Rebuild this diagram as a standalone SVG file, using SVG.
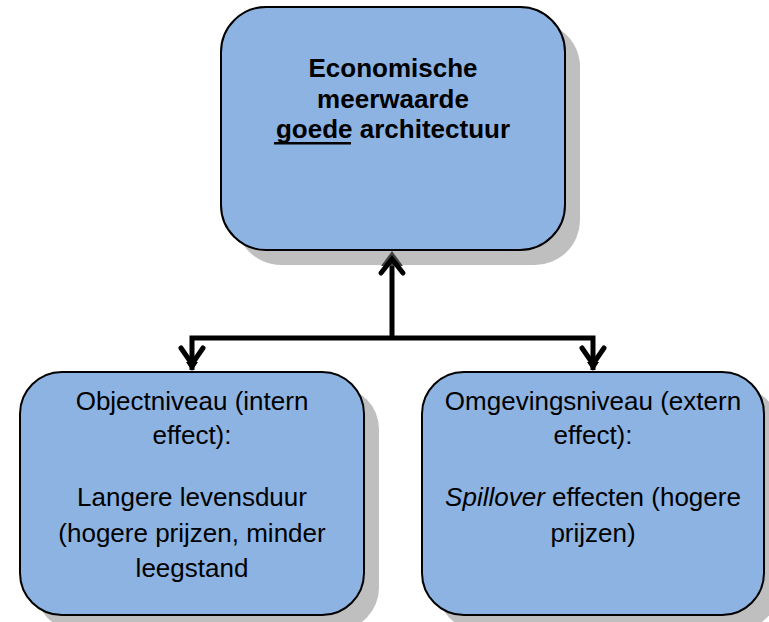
<svg xmlns="http://www.w3.org/2000/svg" width="769" height="622" viewBox="0 0 769 622">
<style>
.box{fill:#8DB3E2;stroke:#000;stroke-width:2}
.shadow{fill:#BFBFBF}
.t{font-family:"Liberation Sans",Arial,sans-serif;font-size:26px;fill:#000;text-anchor:middle}
.b{font-weight:bold}
.ln{fill:none;stroke:#000;stroke-width:5;stroke-linejoin:miter}
.chev{fill:none;stroke:#000;stroke-width:5;stroke-linecap:round;stroke-linejoin:miter}
</style>
<rect width="769" height="622" fill="#fff"/>
<g id="node-top">
<rect class="shadow" x="236" y="22" width="344" height="243" rx="45"/>
<rect class="box" x="221" y="7" width="344" height="243" rx="45"/>
<text class="t b" x="393" y="77">Economische</text>
<text class="t b" x="393" y="108">meerwaarde</text>
<text class="t b" x="393" y="138">goede architectuur</text>
<rect x="274" y="142" width="77" height="2.5" fill="#000"/>
</g>
<g id="node-left">
<rect class="shadow" x="35" y="387" width="344" height="243" rx="42"/>
<rect class="box" x="20" y="372" width="344" height="243" rx="42"/>
<text class="t" x="192" y="410">Objectniveau (intern</text>
<text class="t" x="192" y="444">effect):</text>
<text class="t" x="192" y="506">Langere levensduur</text>
<text class="t" x="192" y="542">(hogere prijzen, minder</text>
<text class="t" x="192" y="577">leegstand</text>
</g>
<g id="node-right">
<rect class="shadow" x="437" y="387" width="342" height="243" rx="42"/>
<rect class="box" x="422" y="372" width="342" height="243" rx="42"/>
<text class="t" x="593" y="410">Omgevingsniveau (extern</text>
<text class="t" x="593" y="444">effect):</text>
<text class="t" x="593" y="506"><tspan font-style="italic">Spillover</tspan> effecten (hogere</text>
<text class="t" x="593" y="542">prijzen)</text>
</g>
<g id="connectors">
<polyline class="ln" points="192,370 192,338 593,338 593,370"/>
<line class="ln" x1="392" y1="338" x2="392" y2="260"/>
<polygon points="392,251 381,266 403,266" fill="#404040"/>
<polyline class="chev" points="381,273 392,259 403,273"/>
<polyline class="chev" points="181,348 192,364 203,348"/>
<polygon points="192,371 186,362 198,362" fill="#000"/>
<polyline class="chev" points="582,348 593,364 604,348"/>
<polygon points="593,371 587,362 599,362" fill="#000"/>
</g>
</svg>
